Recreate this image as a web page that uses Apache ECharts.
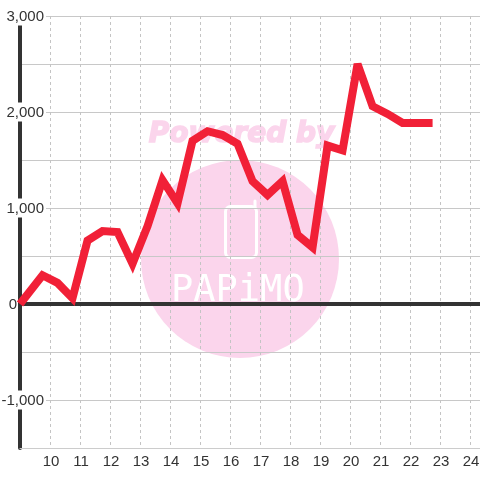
<!DOCTYPE html>
<html><head><meta charset="utf-8">
<style>html,body{margin:0;padding:0;background:#fff}#c{width:480px;height:480px}</style>
<script src="https://cdn.jsdelivr.net/npm/echarts@6/dist/echarts.min.js"></script>
</head><body><div id="c"></div>
<script>
const hours = [9,9.75,10.25,10.75,11.25,11.75,12.25,12.75,13.25,13.75,14.25,14.75,15.25,15.75,16.25,16.75,17.25,17.75,18.25,18.75,19.25,19.75,20.25,20.75,21.25,21.75,22.25,22.75];
const values = [0,300,220,60,660,760,750,420,810,1290,1050,1700,1800,1760,1670,1280,1135,1280,720,590,1650,1600,2500,2060,1980,1885,1885,1885];
const yTickLabels = {'3000':'3,000','2000':'2,000','1000':'1,000','0':'0','-1000':'-1,000'};
const watermarkTop = 'Powered by';
const watermarkBrand = 'PAPiMO';
const chart = echarts.init(document.getElementById('c'), null, {renderer:'canvas'});
const labelFont = {fontFamily:'Liberation Sans', fontSize:15, color:'#333'};
chart.setOption({
  animation:false,
  backgroundColor:'#fff',
  grid:{left:20,right:0,top:16,bottom:32,containLabel:false,outerBoundsMode:'none'},
  graphic:[
    {type:'circle',z:-1,shape:{cx:240,cy:259,r:99},style:{fill:'#fbd5ec'},silent:true},
    {type:'text',z:-1,left:148,top:120,style:{text:watermarkTop,fill:'#fbd5ec',stroke:'#fbd5ec',lineWidth:1.5,font:'italic bold 28px "DejaVu Sans"'},silent:true},
    {type:'text',z:-1,left:171,top:273,style:{text:watermarkBrand,fill:'#fff',font:'37px "DejaVu Sans Mono"'},silent:true},
    {type:'rect',z:-1,shape:{x:225.5,y:206.5,width:31,height:51,r:5},style:{fill:'none',stroke:'#fff',lineWidth:3},silent:true},
    {type:'line',z:-1,shape:{x1:255,y1:201,x2:255,y2:208},style:{stroke:'#fff',lineWidth:3,lineCap:'round'},silent:true}
  ],
  xAxis:[{
    type:'value',min:9,max:24.33,interval:1,position:'bottom',
    axisLine:{onZero:false,show:true,lineStyle:{color:'#ccc',width:1}},
    axisTick:{show:false},
    axisLabel:Object.assign({},labelFont,{margin:6,padding:[0,0,0,2],showMinLabel:false,showMaxLabel:false,hideOverlap:false,
      formatter:v=>Number.isInteger(v)&&v>9?String(v):''}),
    splitLine:{show:true,lineStyle:{color:'#c4c4c4',type:[3,3],width:1}}
  },{
    type:'value',min:9,max:24.33,interval:1,
    axisLine:{onZero:true,show:true,lineStyle:{color:'#333',width:4}},
    axisTick:{show:false},axisLabel:{show:false},splitLine:{show:false}
  }],
  yAxis:{
    type:'value',min:-1500,max:3000,interval:500,
    axisLine:{show:true,onZero:false,lineStyle:{color:'#333',width:4}},
    axisTick:{show:false},
    axisLabel:Object.assign({},labelFont,{margin:-26,
      formatter:v=>{const t=yTickLabels[String(v)];if(!t)return '';return v===0?'{z|'+t+'}':'{a|'+t+'}';},
      rich:{a:{fontFamily:'Liberation Sans',fontSize:15,color:'#333',backgroundColor:'#fff',padding:[3,2,1,1]},
            z:{fontFamily:'Liberation Sans',fontSize:15,color:'#333',padding:[2,29,0,0]}}}),
    splitLine:{show:true,lineStyle:{color:'#c8c8c8',width:1}}
  },
  series:[{
    type:'line',xAxisIndex:0,clip:false,
    data:hours.map((h,i)=>[h,values[i]]),
    symbol:'none',smooth:false,z:10,
    lineStyle:{color:'#f12037',width:8,cap:'butt',join:'miter',miterLimit:3}
  }]
});
</script></body></html>
